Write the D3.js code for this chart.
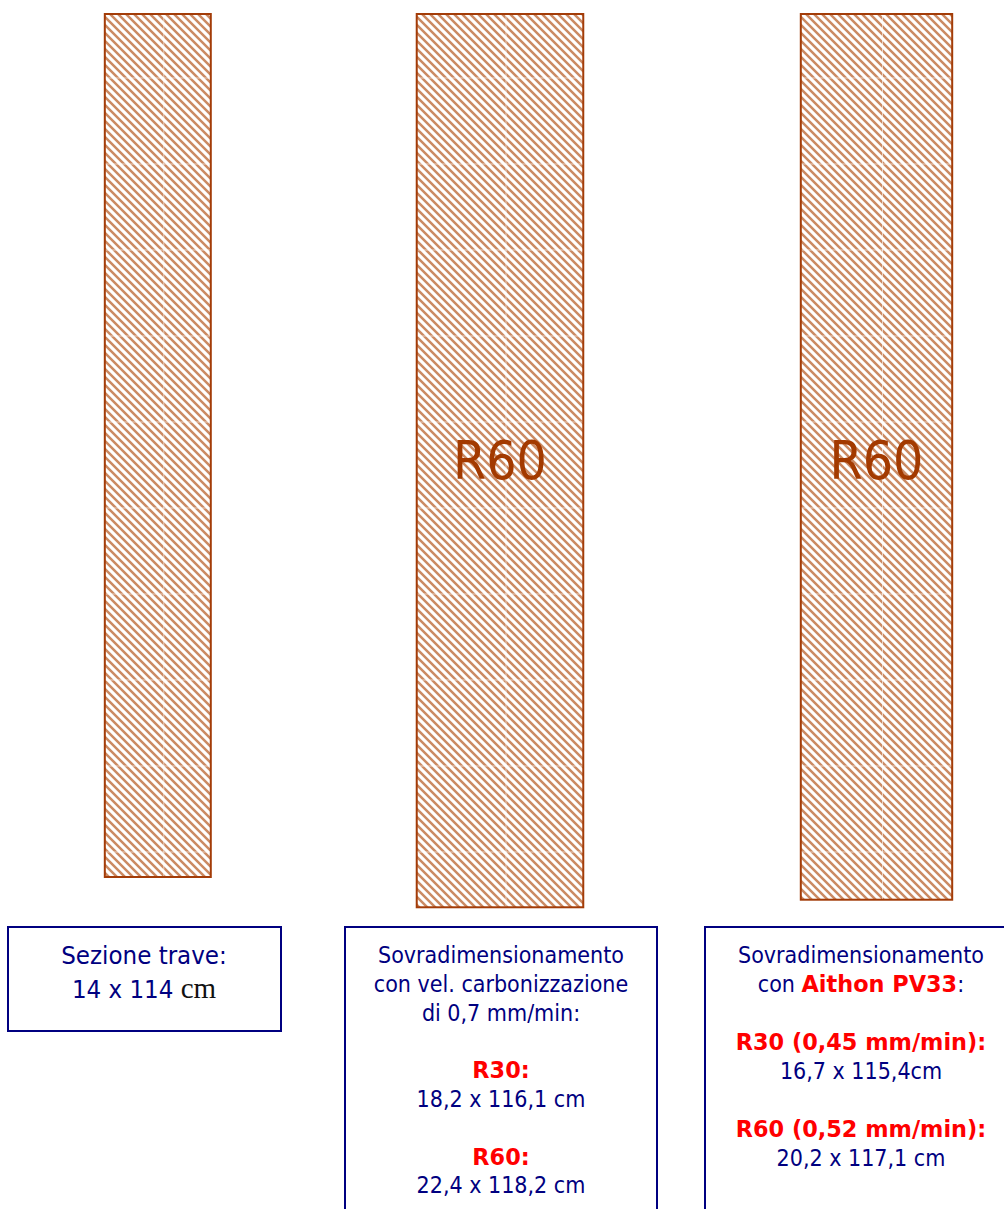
<!DOCTYPE html>
<html lang="en">
<head>
  <meta charset="UTF-8" />
  <title>Sezione trave</title>
  <script src="https://d3js.org/d3.v7.min.js"></script>
  <style>
    html, body { margin: 0; padding: 0; background: #fff; overflow: hidden; }
    svg { display: block; }
    text { font-family: "DejaVu Sans Condensed", "DejaVu Sans", sans-serif; }
    .section { stroke: #a33c08; stroke-width: 2; }
    .box { fill: #fff; stroke: #000080; stroke-width: 2; }
    .label { font-size: 23px; text-anchor: middle; }
    .big { font-size: 25.6px; }
    .rating { font-size: 53px; fill: #a33a00; text-anchor: middle; }
    .bold { font-family: "DejaVu Sans", sans-serif; font-weight: bold; font-size: 22.4px; }
  </style>
</head>
<body>
  <svg width="1004" height="1209"></svg>

  <script>
    // section sizes in cm, as drawn
    const sectionNames = ["Sezione trave", "Vel. carbonizzazione", "Aithon PV33"];
    const sectionWidths = [14, 22, 20];
    const sectionHeights = [114, 118, 117];
    const sectionRatings = ["", "R60", "R60"];

    const box1Lines = [
      [["Sezione trave:", "t"]],
      [["14 x 114 ", "t"], ["cm", "s"]]
    ];
    const box2Lines = [
      [["Sovradimensionamento", "t"]],
      [["con vel. carbonizzazione", "t"]],
      [["di 0,7 mm/min:", "t"]],
      [],
      [["R30:", "b"]],
      [["18,2 x 116,1 cm", "t"]],
      [],
      [["R60:", "b"]],
      [["22,4 x 118,2 cm", "t"]]
    ];
    const box3Lines = [
      [["Sovradimensionamento", "t"]],
      [["con ", "t"], ["Aithon PV33", "b"], [":", "t"]],
      [],
      [["R30 (0,45 mm/min):", "b"]],
      [["16,7 x 115,4cm", "t"]],
      [],
      [["R60 (0,52 mm/min):", "b"]],
      [["20,2 x 117,1 cm", "t"]]
    ];

    const svg = d3.select("svg");
    const topY = 14;
    const cm = d3.scaleLinear().domain([0, 114]).range([0, 863]);

    const centers = d3.scaleOrdinal().domain(sectionNames).range([157.8, 500, 876.5]);

    const sections = sectionNames.map((name, i) => ({
      name,
      w: cm(sectionWidths[i]),
      h: cm(sectionHeights[i]),
      rating: sectionRatings[i]
    }));

    // hatch: 45 degree stripes, pale so the seams and text stay readable
    const defs = svg.append("defs");
    const pattern = defs.append("pattern")
      .attr("id", "hatch")
      .attr("patternUnits", "userSpaceOnUse")
      .attr("width", 8)
      .attr("height", 8);
    pattern.append("rect").attr("width", 8).attr("height", 8).attr("fill", "#fff");
    pattern.append("path")
      .attr("d", "M-2,-2L10,10M-2,6L2,10M6,-2L10,2")
      .attr("stroke", "#cb8a63")
      .attr("stroke-width", 2.5);

    const g = svg.selectAll("g.sec")
      .data(sections)
      .join("g")
      .attr("class", "sec");

    g.append("rect")
      .attr("class", "section")
      .attr("x", d => centers(d.name) - d.w / 2)
      .attr("y", topY)
      .attr("width", d => d.w)
      .attr("height", d => d.h)
      .attr("fill", "url(#hatch)");

    // faint tile seams in the hatch
    g.each(function (d) {
      const sel = d3.select(this);
      const x0 = centers(d.name) - d.w / 2 + 1, x1 = centers(d.name) + d.w / 2 - 1;
      d3.range(78, topY + d.h - 1, 86).forEach(y => {
        sel.append("line").attr("x1", x0).attr("x2", x1).attr("y1", y).attr("y2", y)
          .attr("stroke", "#fff").attr("stroke-opacity", 0.6).attr("stroke-width", 1);
      });
      sel.append("line")
        .attr("x1", centers(d.name) + 6).attr("x2", centers(d.name) + 6)
        .attr("y1", topY + 1).attr("y2", topY + d.h - 1)
        .attr("stroke", "#fff").attr("stroke-opacity", 0.6).attr("stroke-width", 1);
    });

    g.append("text")
      .attr("class", "rating")
      .attr("x", d => centers(d.name))
      .attr("y", 479)
      .text(d => d.rating);

    // info boxes
    const boxes = [
      { x: 8, w: 273, h: 104, cx: 144, y0: 964, lines: box1Lines, lh: 34, big: true },
      { x: 345, w: 312, h: 300, cx: 501, y0: 963, lines: box2Lines, lh: 28.8 },
      { x: 705, w: 320, h: 300, cx: 861, y0: 963, lines: box3Lines, lh: 29 }
    ];
    const colors = { t: "#000080", b: "#ff0000", s: "#111" };

    boxes.forEach(b => {
      svg.append("rect").attr("class", "box")
        .attr("x", b.x).attr("y", 927).attr("width", b.w).attr("height", b.h);
      b.lines.forEach((runs, i) => {
        const t = svg.append("text").attr("class", b.big ? "label big" : "label")
          .attr("x", b.cx).attr("y", b.y0 + i * b.lh);
        runs.forEach(([s, k]) => {
          const r = t.append("tspan").attr("fill", colors[k]).text(s);
          if (k === "b") r.attr("class", "bold");
          if (k === "s") r.style("font-family", "'Liberation Serif', serif").style("font-size", "29px");
        });
      });
    });
  </script>
</body>
</html>
